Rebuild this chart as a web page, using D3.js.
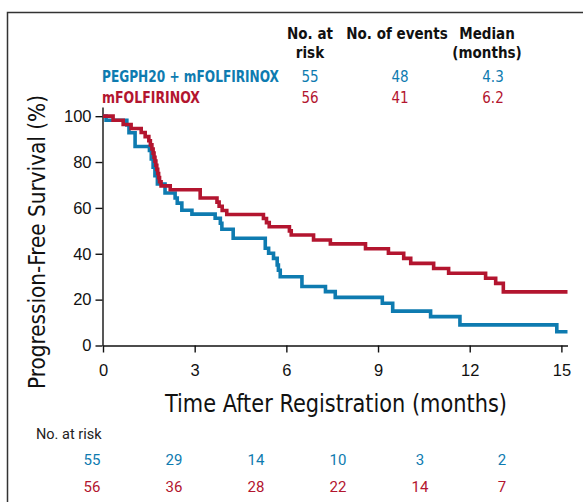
<!DOCTYPE html>
<html>
<head>
<meta charset="utf-8">
<script src="https://cdn.jsdelivr.net/npm/d3@7"></script>
<style>
  body { margin: 0; background: #fff; }
  svg { display: block; }
  .cond { font-family: 'DejaVu Sans Condensed', 'Liberation Sans Narrow', sans-serif; }
  .helv { font-family: 'Liberation Sans', Arial, sans-serif; }
  .plain { font-family: Roboto, 'Noto Sans', sans-serif; }
</style>
</head>
<body>
<svg width="583" height="502"></svg>
<script>
// Kaplan-Meier steps: [months, survival %]
var blueSteps = [
  [0, 100], [0.1, 98.2], [0.78, 96.2], [0.85, 92.8], [1.05, 86.8],
  [1.52, 85.0], [1.58, 81.3], [1.64, 77.7], [1.70, 74.0], [1.78, 70.4],
  [2.03, 66.5], [2.36, 64.3], [2.43, 62.1], [2.58, 59.0], [2.91, 57.3],
  [3.67, 55.5], [3.84, 53.3], [3.89, 50.7], [4.26, 46.8], [5.31, 42.4],
  [5.42, 40.2], [5.58, 38.0], [5.70, 35.1], [5.74, 32.8], [5.80, 30.0],
  [6.51, 25.7], [7.28, 23.5], [7.60, 21.0], [9.14, 18.4], [9.48, 15.0],
  [10.72, 12.6], [11.68, 9.0], [14.85, 6.0], [15.2, 6.0]
];
var redSteps = [
  [0, 100], [0.33, 98.2], [0.66, 96.4], [0.92, 94.6], [1.25, 92.9],
  [1.38, 91.1], [1.50, 89.3], [1.55, 87.5], [1.60, 85.7], [1.64, 83.9],
  [1.67, 82.1], [1.70, 80.4], [1.73, 78.6], [1.76, 76.8], [1.79, 75.0],
  [1.82, 73.2], [1.85, 71.4], [1.90, 69.6], [2.20, 67.9], [3.18, 64.3],
  [3.73, 62.5], [3.80, 60.7], [3.90, 58.9], [4.05, 57.1], [5.25, 55.4],
  [5.35, 53.6], [5.44, 51.8], [6.10, 50.0], [6.16, 48.2], [6.89, 46.0],
  [7.44, 44.3], [8.59, 42.2], [9.34, 40.2], [9.84, 38.0], [10.07, 35.8],
  [10.82, 33.6], [11.31, 31.5], [12.52, 29.3], [12.85, 27.1], [13.10, 23.4],
  [15.2, 23.4]
];

var armNames = ["PEGPH20 + mFOLFIRINOX", "mFOLFIRINOX"];
var armColors = ["#0e7bb0", "#b3152f"];
var armN = [55, 56];
var armEvents = [48, 41];
var armMedian = ["4.3", "6.2"];

var riskTimes = [0, 3, 6, 9, 12, 15];
var riskBlue = [55, 29, 14, 10, 3, 2];
var riskRed = [56, 36, 28, 22, 14, 7];

var xTicks = [0, 3, 6, 9, 12, 15];
var yTicks = [0, 20, 40, 60, 80, 100];

var svg = d3.select("svg");

// frame
svg.append("path")
  .attr("d", "M7.5,502 V12.5 H583")
  .attr("fill", "none")
  .attr("stroke", "#333")
  .attr("stroke-width", 1.5);

var x = d3.scaleLinear().domain([0, 15.2]).range([103, 567.5]);
var y = d3.scaleLinear().domain([0, 104]).range([345.5, 107]);

// axes
var xAxis = svg.append("g")
  .attr("transform", "translate(0,345.5)")
  .call(d3.axisBottom(x).tickValues(xTicks).tickSize(7).tickSizeOuter(0).tickPadding(12));
var yAxis = svg.append("g")
  .attr("transform", "translate(102.5,0)")
  .call(d3.axisLeft(y).tickValues(yTicks).tickSize(7).tickSizeOuter(0).tickPadding(4));

[xAxis, yAxis].forEach(function(a) {
  a.selectAll("path, line").attr("stroke", "#111").attr("stroke-width", 1.4);
  a.selectAll("text").attr("class", "helv").attr("font-size", 16.5).attr("fill", "#111");
});

// curves
var line = d3.line()
  .x(function(d) { return x(d[0]); })
  .y(function(d) { return y(d[1]); })
  .curve(d3.curveStepAfter);

[blueSteps, redSteps].forEach(function(s, i) {
  svg.append("path")
    .datum(s)
    .attr("fill", "none")
    .attr("stroke", armColors[i])
    .attr("stroke-width", 3.6)
    .attr("d", line);
});

// axis titles
svg.append("text")
  .attr("class", "cond")
  .attr("transform", "translate(45,242) rotate(-90)")
  .attr("text-anchor", "middle")
  .attr("font-size", 23)
  .attr("textLength", 294)
  .attr("lengthAdjust", "spacingAndGlyphs")
  .attr("fill", "#111")
  .text("Progression-Free Survival (%)");

svg.append("text")
  .attr("class", "cond")
  .attr("x", 336).attr("y", 412)
  .attr("text-anchor", "middle")
  .attr("font-size", 24)
  .attr("textLength", 342)
  .attr("lengthAdjust", "spacingAndGlyphs")
  .attr("fill", "#111")
  .text("Time After Registration (months)");

// legend table
var head = svg.append("g").attr("class", "cond").attr("font-weight", "bold")
  .attr("font-size", 15).attr("fill", "#111").attr("text-anchor", "middle");
head.append("text").attr("x", 310).attr("y", 39).text("No. at");
head.append("text").attr("x", 310).attr("y", 58).text("risk");
head.append("text").attr("x", 397).attr("y", 39).text("No. of events");
head.append("text").attr("x", 487).attr("y", 39).text("Median");
head.append("text").attr("x", 487).attr("y", 58).text("(months)");

armNames.forEach(function(name, i) {
  var g = svg.append("g").attr("class", "cond").attr("font-size", 15).attr("fill", armColors[i]);
  var by = 82 + i * 21;
  g.append("text").attr("x", 102).attr("y", by).attr("font-weight", "bold")
    .attr("textLength", i === 0 ? 177 : 98)
    .attr("lengthAdjust", "spacingAndGlyphs")
    .text(name);
  g.append("text").attr("x", 310).attr("y", by).attr("text-anchor", "middle").text(armN[i]);
  g.append("text").attr("x", 400).attr("y", by).attr("text-anchor", "middle").text(armEvents[i]);
  g.append("text").attr("x", 493).attr("y", by).attr("text-anchor", "middle").text(armMedian[i]);
});

// number at risk table
var xr = d3.scaleLinear().domain([0, 15]).range([92, 502]);
svg.append("text")
  .attr("class", "plain")
  .attr("x", 36).attr("y", 439)
  .attr("font-size", 14.5)
  .attr("fill", "#222")
  .text("No. at risk");

[riskBlue, riskRed].forEach(function(row, i) {
  svg.append("g").selectAll("text")
    .data(row)
    .enter().append("text")
    .attr("class", "plain")
    .attr("x", function(d, j) { return xr(riskTimes[j]); })
    .attr("y", 465 + i * 27)
    .attr("text-anchor", "middle")
    .attr("font-size", 15)
    .attr("fill", armColors[i])
    .text(function(d) { return d; });
});
</script>
</body>
</html>
